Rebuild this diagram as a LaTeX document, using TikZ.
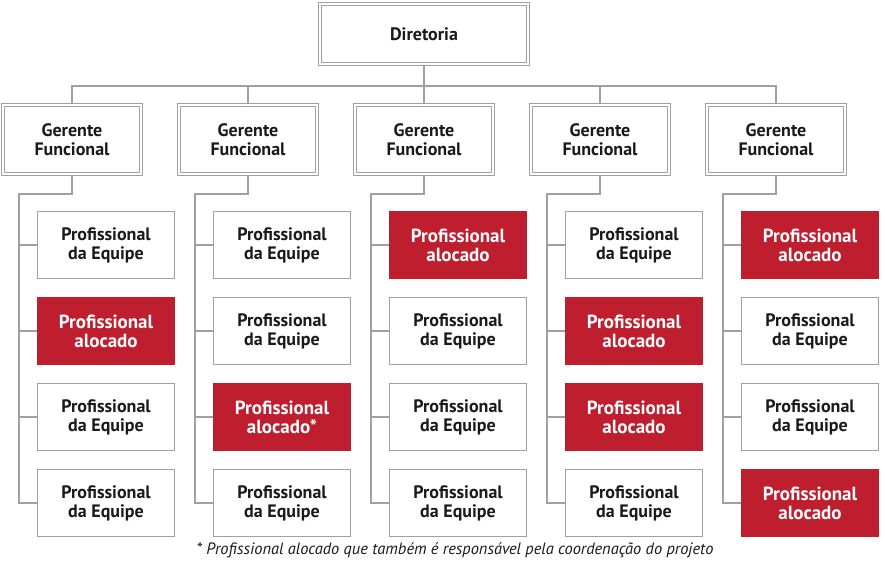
\documentclass[tikz,border=0pt]{standalone}
\usepackage{fontspec}
\setmainfont{PT Sans}
\begin{document}
\begin{tikzpicture}[x=1pt,y=-1pt,
  conn/.style={draw=linegray,line width=1.4pt},
  dbox/.style={draw=linegray,double=white,double distance=2.2pt,line width=1.1pt,fill=white,
    align=center,inner sep=0pt,text=txt,font=\bfseries\fontsize{18}{19}\selectfont},
  wbox/.style={draw=linegray,line width=1.4pt,fill=white,minimum width=137pt,minimum height=67pt,
    align=center,inner sep=0pt,text=txt,font=\bfseries\fontsize{18}{19}\selectfont},
  rbox/.style={fill=redc,minimum width=138pt,minimum height=68pt,
    align=center,inner sep=0pt,text=white,font=\bfseries\fontsize{19}{19}\selectfont},
  note/.style={font=\itshape\fontsize{16.4}{18}\selectfont,text=txt,inner sep=0pt}]
\definecolor{linegray}{HTML}{A0A0A0}
\definecolor{redc}{HTML}{BE1E2D}
\definecolor{txt}{HTML}{1A1A1A}
\useasboundingbox (0,0) rectangle (885,576);
\node[dbox,minimum width=208pt,minimum height=60pt] (dir) at (424,34) {Diretoria};
\coordinate (bus) at (424,86);
\draw[conn] (dir.south) -- (bus);
% columns
\foreach \i/\ra/\rb/\rc/\rd in {1/w/r/w/w, 2/w/w/a/w, 3/r/w/w/w, 4/w/r/r/w, 5/r/w/w/r}{
  \pgfmathsetmacro{\gx}{72+176*(\i-1)}
  \pgfmathsetmacro{\tx}{19+176*(\i-1)}
  \pgfmathsetmacro{\cx}{106+176*(\i-1)}
  \node[dbox,minimum width=137.5pt,minimum height=69pt] (g\i) at (\gx,139.5) {Gerente\\Funcional};
  \draw[conn] (g\i.north) |- (bus);
  \coordinate (t\i) at (\tx,194);
  \foreach \k/\kind in {1/\ra,2/\rb,3/\rc,4/\rd}{
    \pgfmathsetmacro{\cy}{245+86*(\k-1)}
    \if r\kind
      \node[rbox] (c\i-\k) at (\cx,\cy) {Profissional\\alocado};
    \else\if a\kind
      \node[rbox] (c\i-\k) at (\cx,\cy) {Profissional\\alocado*};
    \else
      \node[wbox] (c\i-\k) at (\cx,\cy) {Profissional\\da Equipe};
    \fi\fi
    \draw[conn] (t\i |- c\i-\k.west) -- (c\i-\k.west);
  }
  \draw[conn] (g\i.south) |- (t\i) |- (c\i-4.west);
}
\node[note] (fn) at (455,550) {* Profissional alocado que também é responsável pela coordenação do projeto};
\end{tikzpicture}
\end{document}
